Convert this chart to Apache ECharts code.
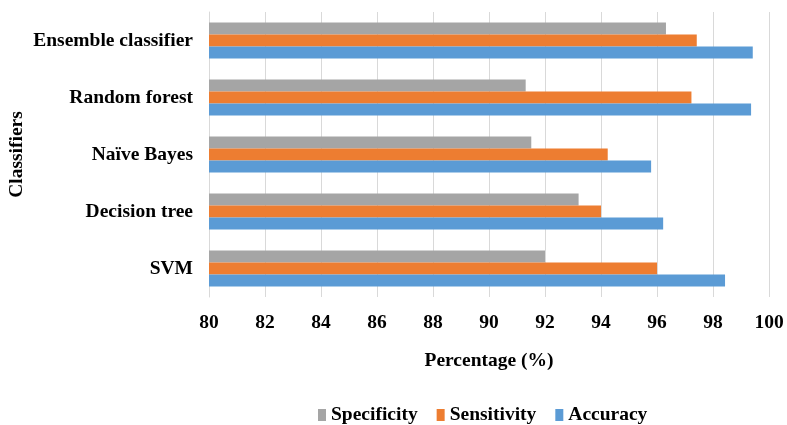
<!DOCTYPE html>
<html>
<head>
<meta charset="utf-8">
<script src="https://cdn.jsdelivr.net/npm/echarts@6/dist/echarts.min.js"></script>
<style>
  html, body { margin: 0; padding: 0; background: #fff; }
  #chart { width: 787px; height: 425px; }
</style>
</head>
<body>
<div id="chart"></div>
<script>
// Classifier performance (percent), bottom to top on the category axis
const classifiers = ['SVM', 'Decision tree', 'Naïve Bayes', 'Random forest', 'Ensemble classifier'];
const accuracy    = [98.43, 96.22, 95.79, 99.36, 99.42];
const sensitivity = [96.0, 94.0, 94.24, 97.23, 97.42];
const specificity = [92.0, 93.2, 91.51, 91.31, 96.32];
const legendOrder = ['Specificity', 'Sensitivity', 'Accuracy'];

const FONT = '"Liberation Serif", "Times New Roman", serif';
const textStyle = { fontFamily: FONT, fontWeight: 'bold', fontSize: 19.5, color: '#000' };

const chart = echarts.init(document.getElementById('chart'), null, { renderer: 'canvas' });

function barSeries(name, data, color) {
  return {
    name: name,
    type: 'bar',
    data: data,
    barGap: '0%',
    barCategoryGap: '37%',
    itemStyle: { color: color },
    emphasis: { disabled: true }
  };
}

chart.setOption({
  animation: false,
  grid: { left: 209, right: 18, top: 12, bottom: 128, containLabel: false, outerBoundsMode: 'none' },
  legend: {
    data: legendOrder,
    top: 400,
    left: 313,
    icon: 'rect',
    itemWidth: 8,
    itemHeight: 12,
    itemGap: 19,
    textStyle: Object.assign({}, textStyle, { fontSize: 19.5 })
  },
  xAxis: {
    type: 'value',
    min: 80,
    max: 100,
    interval: 2,
    name: 'Percentage (%)',
    nameLocation: 'middle',
    nameGap: 54,
    nameMoveOverlap: false,
    nameTextStyle: textStyle,
    axisLine: { show: false },
    axisTick: { show: false },
    axisLabel: Object.assign({ margin: 16 }, textStyle),
    splitLine: { show: true, lineStyle: { color: '#d9d9d9', width: 1 } }
  },
  yAxis: {
    type: 'category',
    data: classifiers,
    name: 'Classifiers',
    nameLocation: 'middle',
    nameRotate: 90,
    nameGap: 182,
    nameMoveOverlap: false,
    nameTextStyle: textStyle,
    axisLine: { show: true, lineStyle: { color: '#d9d9d9', width: 1 } },
    axisTick: { show: false },
    axisLabel: Object.assign({ margin: 16 }, textStyle)
  },
  series: [
    barSeries('Specificity', specificity, '#A5A5A5'),
    barSeries('Sensitivity', sensitivity, '#ED7D31'),
    barSeries('Accuracy', accuracy, '#5B9BD5')
  ]
});
</script>
</body>
</html>
